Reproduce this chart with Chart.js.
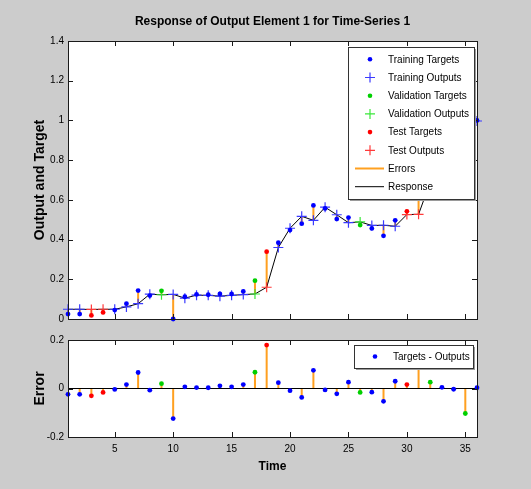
<!DOCTYPE html>
<html>
<head>
<meta charset="utf-8">
<script src="https://cdn.jsdelivr.net/npm/chart.js@4.4.1/dist/chart.umd.min.js"></script>
<style>
  html, body { margin: 0; padding: 0; background: #cccccc; }
  #wrap { position: relative; width: 531px; height: 489px; overflow: hidden; background: #cccccc; }
  #respCanvas { position: absolute; left: 0; top: 0; }
  #errCanvas { position: absolute; left: 0; top: 330px; }
</style>
</head>
<body>
<div id="wrap">
  <canvas id="respCanvas" width="531" height="330"></canvas>
  <canvas id="errCanvas" width="531" height="159"></canvas>
</div>
<script>
// ---- data ----
const timeSteps = [1,2,3,4,5,6,7,8,9,10,11,12,13,14,15,16,17,18,19,20,21,22,23,24,25,26,27,28,29,30,31,32,33,34,35,36];
const targets = [0.025,0.025,0.018,0.033,0.045,0.077,0.143,0.118,0.142,0.000,0.112,0.124,0.122,0.126,0.126,0.139,0.193,0.339,0.384,0.448,0.480,0.572,0.557,0.503,0.511,0.473,0.456,0.419,0.497,0.542,0.660,0.716,0.785,0.857,0.847,1.000];
const outputs = [0.049,0.049,0.048,0.049,0.049,0.061,0.077,0.125,0.122,0.124,0.105,0.120,0.119,0.115,0.119,0.123,0.126,0.160,0.360,0.457,0.517,0.497,0.563,0.525,0.485,0.489,0.471,0.472,0.467,0.526,0.527,0.690,0.780,0.860,0.950,0.997];
const splits = ['train','train','test','test','train','train','train','train','val','train',
                'train','train','train','train','train','train','val','test','train','train',
                'train','train','train','train','train','val','train','train','train','test',
                'test','val','train','train','val','train'];
const splitNames = ['train','val','test'];
const splitLabels = { train: 'Training', val: 'Validation', test: 'Test' };
const xTickValues = [5,10,15,20,25,30,35];
const respTickValues = [0,0.2,0.4,0.6,0.8,1.0,1.2,1.4];
const respTickLabels = ['0','0.2','0.4','0.6','0.8','1','1.2','1.4'];
const errTickValues = [-0.2,0,0.2];
const errTickLabels = ['-0.2','0','0.2'];
const chartTitle = 'Response of Output Element 1 for Time-Series 1';

// ---- styling ----
const FONT = "'Liberation Sans', Arial, sans-serif";
const targetColors = { train: '#0000ff', val: '#00d000', test: '#ff0000' };
const outputColors = { train: '#3a3aff', val: '#3ae83a', test: '#ff3a3a' };
const errorColor = '#ffa020';

const errors = targets.map((t, i) => t - outputs[i]);

function pointsFor(split, values) {
  const pts = [];
  timeSteps.forEach((t, i) => { if (splits[i] === split) pts.push({ x: t, y: values[i] }); });
  return pts;
}
function stems(from, to) {
  const pts = [];
  timeSteps.forEach((t, i) => {
    pts.push({ x: t, y: from[i] }, { x: t, y: to[i] }, { x: t, y: null });
  });
  return pts;
}

// white plot area behind the marks
const plotBackground = {
  id: 'plotBackground',
  beforeDraw(chart) {
    const { ctx, chartArea: a } = chart;
    ctx.save();
    ctx.fillStyle = '#ffffff';
    ctx.fillRect(a.left, a.top, a.right - a.left, a.bottom - a.top);
    ctx.restore();
  }
};

// axes box with inward tick marks on all four sides
const axesBox = {
  id: 'axesBox',
  afterDatasetsDraw(chart) {
    const { ctx, chartArea: a, scales } = chart;
    const len = 5;
    ctx.save();
    ctx.strokeStyle = '#1a1a1a';
    ctx.lineWidth = 1;
    ctx.beginPath();
    scales.x.ticks.forEach(tk => {
      const px = Math.round(scales.x.getPixelForValue(tk.value)) + 0.5;
      ctx.moveTo(px, a.bottom); ctx.lineTo(px, a.bottom - len);
      ctx.moveTo(px, a.top); ctx.lineTo(px, a.top + len);
    });
    scales.y.ticks.forEach(tk => {
      const py = Math.round(scales.y.getPixelForValue(tk.value)) + 0.5;
      ctx.moveTo(a.left, py); ctx.lineTo(a.left + len, py);
      ctx.moveTo(a.right, py); ctx.lineTo(a.right - len, py);
    });
    ctx.stroke();
    ctx.strokeRect(Math.round(a.left) + 0.5, Math.round(a.top) + 0.5,
                   Math.round(a.right - a.left), Math.round(a.bottom - a.top));
    ctx.restore();
  }
};

// boxed legend placed inside the top-right corner of the plot
const boxLegend = {
  id: 'boxLegend',
  afterDraw(chart, args, opts) {
    const { ctx, chartArea: a } = chart;
    const items = chart.data.datasets.filter(d => d.legendKind)
      .sort((p, q) => p.legendRank - q.legendRank);
    const left = a.right - opts.rightGap - opts.width;
    const top = a.top + opts.topGap;
    const height = opts.padTop * 2 + opts.rowHeight * (items.length - 1);
    ctx.save();
    ctx.fillStyle = '#9a9a9a';
    ctx.fillRect(left + 2, top + 2, opts.width, height);
    ctx.fillStyle = '#ffffff';
    ctx.fillRect(left, top, opts.width, height);
    ctx.strokeStyle = '#333333';
    ctx.lineWidth = 1;
    ctx.strokeRect(Math.round(left) + 0.5, Math.round(top) + 0.5, opts.width, height);
    ctx.font = '10px ' + FONT;
    ctx.textBaseline = 'middle';
    ctx.textAlign = 'left';
    items.forEach((d, i) => {
      const y = top + opts.padTop + i * opts.rowHeight;
      const sx = left + opts.symbolX;
      if (d.legendKind === 'dot') {
        ctx.fillStyle = d.pointBackgroundColor;
        ctx.beginPath(); ctx.arc(sx, y, 2.3, 0, Math.PI * 2); ctx.fill();
      } else if (d.legendKind === 'cross') {
        ctx.strokeStyle = d.pointBorderColor;
        ctx.lineWidth = 1.2;
        ctx.beginPath();
        ctx.moveTo(sx - 5, y); ctx.lineTo(sx + 5, y);
        ctx.moveTo(sx, y - 5); ctx.lineTo(sx, y + 5);
        ctx.stroke();
      } else {
        ctx.strokeStyle = d.borderColor;
        ctx.lineWidth = d.borderWidth;
        ctx.beginPath();
        ctx.moveTo(left + opts.lineFrom, y); ctx.lineTo(left + opts.lineTo, y);
        ctx.stroke();
      }
      ctx.fillStyle = '#000000';
      ctx.fillText(d.label, left + opts.textX, y + 0.5);
    });
    ctx.restore();
  }
};

function xScale(showLabels, title, height) {
  return {
    type: 'linear', min: timeSteps[0], max: timeSteps[timeSteps.length - 1],
    offset: false,
    grid: { display: false, drawTicks: false },
    border: { display: false },
    afterBuildTicks: s => { s.ticks = xTickValues.map(v => ({ value: v })); },
    afterFit: s => { s.height = height; },
    ticks: { display: showLabels, color: '#000', padding: 6, maxRotation: 0,
             font: { family: FONT, size: 10 }, callback: v => String(v) },
    title: title ? { display: true, text: title, color: '#000',
                     font: { family: FONT, size: 12, weight: 'bold', lineHeight: 1.2 },
                     padding: { top: 0, bottom: 14.8 } } : { display: false }
  };
}
function yScale(min, max, values, labels, title) {
  return {
    type: 'linear', min: min, max: max,
    grid: { display: false, drawTicks: false },
    border: { display: false },
    afterBuildTicks: s => { s.ticks = values.map(v => ({ value: v })); },
    afterFit: s => { s.width = 68; },
    ticks: { color: '#000', padding: 4, font: { family: FONT, size: 10 },
             callback: (v, i) => labels[i] },
    title: { display: true, text: title, color: '#000',
             font: { family: FONT, size: 14, weight: 'bold', lineHeight: 1.2 },
             padding: { top: 31.6, bottom: 0 } }
  };
}

// ---- response chart ----
const respDatasets = [];
splitNames.forEach((s, k) => {
  respDatasets.push({
    label: splitLabels[s] + ' Targets', legendKind: 'dot', legendRank: k * 2,
    data: pointsFor(s, targets), showLine: false, order: 1, clip: 8,
    pointStyle: 'circle', pointRadius: 2.4, pointBorderWidth: 0,
    pointBackgroundColor: targetColors[s], pointBorderColor: targetColors[s]
  });
  respDatasets.push({
    label: splitLabels[s] + ' Outputs', legendKind: 'cross', legendRank: k * 2 + 1,
    data: pointsFor(s, outputs), showLine: false, order: 2, clip: 8,
    pointStyle: 'cross', pointRadius: 5, pointBorderWidth: 1.2,
    pointBackgroundColor: outputColors[s], pointBorderColor: outputColors[s]
  });
});
respDatasets.push({
  label: 'Errors', legendKind: 'line', legendRank: 6,
  data: stems(outputs, targets), showLine: true, spanGaps: false, order: 4, clip: 8,
  borderColor: errorColor, borderWidth: 2, pointRadius: 0
});
respDatasets.push({
  label: 'Response', legendKind: 'line', legendRank: 7,
  data: timeSteps.map((t, i) => ({ x: t, y: outputs[i] })), showLine: true, order: 3, clip: 8,
  borderColor: '#000000', borderWidth: 1, pointRadius: 0, tension: 0
});

new Chart(document.getElementById('respCanvas'), {
  type: 'scatter',
  data: { datasets: respDatasets },
  plugins: [plotBackground, axesBox, boxLegend],
  options: {
    responsive: false, animation: false, devicePixelRatio: 1,
    layout: { padding: { left: 0, right: 54, top: 0, bottom: 0 } },
    plugins: {
      legend: { display: false }, tooltip: { enabled: false },
      title: { display: true, text: chartTitle, color: '#000', fullSize: false,
               font: { family: FONT, size: 12, weight: 'bold', lineHeight: 1.2 },
               padding: { top: 14.8, bottom: 11.8 } },
      boxLegend: { width: 126, rightGap: 3, topGap: 6, padTop: 12.3, rowHeight: 18.2,
                   symbolX: 22, lineFrom: 7, lineTo: 36, textX: 40 }
    },
    scales: {
      x: xScale(false, null, 11),
      y: yScale(0, 1.4, respTickValues, respTickLabels, 'Output and Target')
    }
  }
});

// ---- error chart ----
const errDatasets = [];
splitNames.forEach((s, k) => {
  errDatasets.push({
    label: 'Targets - Outputs', legendKind: k === 0 ? 'dot' : null, legendRank: 0,
    data: pointsFor(s, errors), showLine: false, order: 1, clip: 8,
    pointStyle: 'circle', pointRadius: 2.4, pointBorderWidth: 0,
    pointBackgroundColor: targetColors[s], pointBorderColor: targetColors[s]
  });
});
errDatasets.push({
  label: 'Error stems',
  data: stems(timeSteps.map(() => 0), errors), showLine: true, spanGaps: false, order: 3,
  borderColor: errorColor, borderWidth: 2, pointRadius: 0
});
errDatasets.push({
  label: 'Zero line',
  data: [{ x: timeSteps[0], y: 0 }, { x: timeSteps[timeSteps.length - 1], y: 0 }],
  showLine: true, order: 2, borderColor: '#000000', borderWidth: 1, pointRadius: 0
});

new Chart(document.getElementById('errCanvas'), {
  type: 'scatter',
  data: { datasets: errDatasets },
  plugins: [plotBackground, axesBox, boxLegend],
  options: {
    responsive: false, animation: false, devicePixelRatio: 1,
    layout: { padding: { left: 0, right: 54, top: 10, bottom: 0 } },
    plugins: {
      legend: { display: false }, tooltip: { enabled: false },
      boxLegend: { width: 119, rightGap: 4, topGap: 5, padTop: 11.5, rowHeight: 18,
                   symbolX: 21, lineFrom: 7, lineTo: 36, textX: 39 }
    },
    scales: {
      x: xScale(true, 'Time', 52),
      y: yScale(-0.2, 0.2, errTickValues, errTickLabels, 'Error')
    }
  }
});
</script>
</body>
</html>
